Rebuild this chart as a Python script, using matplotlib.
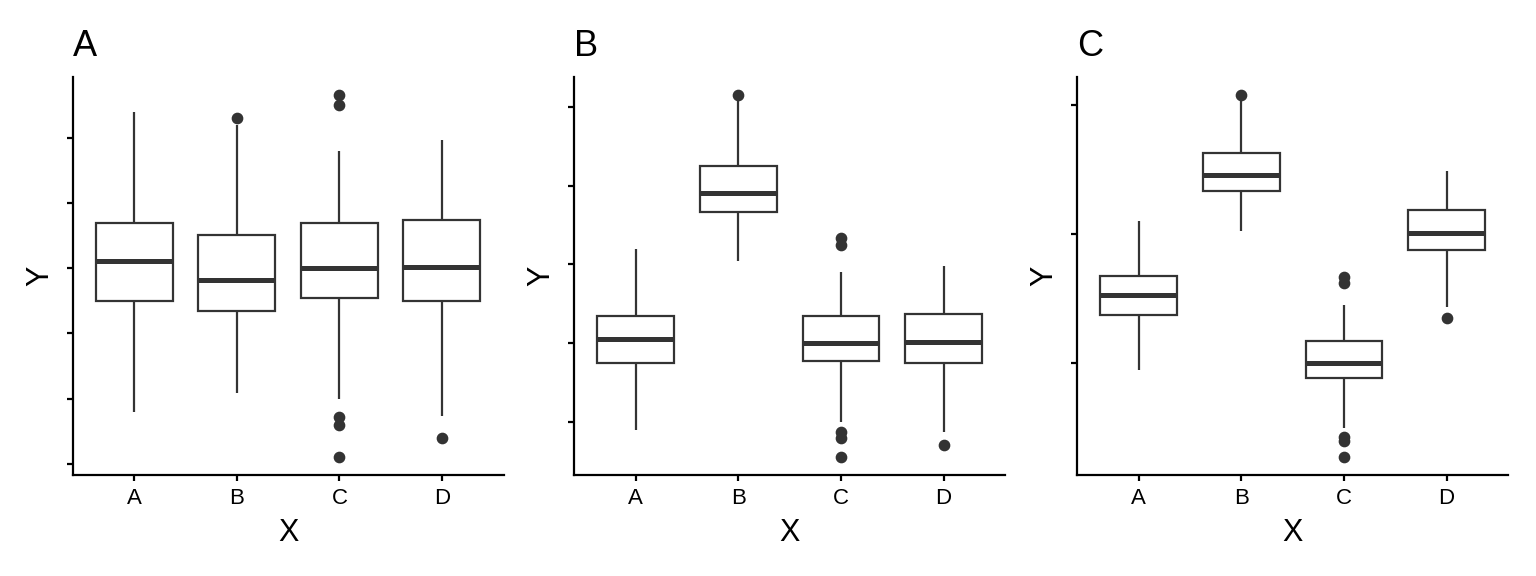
import matplotlib
matplotlib.use("Agg")
import matplotlib.pyplot as plt

plt.rcParams['font.family'] = ['Liberation Sans', 'DejaVu Sans']

# Base box statistics per group (shared by all panels)
groups = ["A", "B", "C", "D"]
whislo = [-2.210, -1.913, -2.003, -2.266]
q1 = [-0.505, -0.661, -0.455, -0.507]
med = [0.108, -0.180, 0.000, 0.021]
q3 = [0.690, 0.503, 0.691, 0.745]
whishi = [2.392, 2.200, 1.796, 1.959]
fliers = [[], [2.310], [2.660, 2.498, -2.277, -2.409, -2.891], [-2.599]]

# Per-panel group shifts
panel_titles = ["A", "B", "C"]
shift_A = [0, 0, 0, 0]
shift_B = [0, 4, 0, 0]
shift_C = [0, 4, -2, 2]
panel_shifts = [shift_A, shift_B, shift_C]
panel_ticks = [[-3, -2, -1, 0, 1, 2], [-2, 0, 2, 4, 6], [-2, 2, 6]]

W, H = 1536, 576
fig = plt.figure(figsize=(W / 100, H / 100), dpi=100)
lefts = [72.7, 574.3, 1077.3]
ax_w, ax_top, ax_bot = 430.8, 76.7, 474.7
ax_h = ax_bot - ax_top

col = "#333333"
for i, (title, shifts, ticks) in enumerate(zip(panel_titles, panel_shifts, panel_ticks)):
    ax = fig.add_axes([lefts[i] / W, (H - ax_bot) / H, ax_w / W, ax_h / H])
    stats = []
    allv = []
    for g in range(4):
        s = shifts[g]
        d = dict(label=groups[g], whislo=whislo[g] + s, q1=q1[g] + s, med=med[g] + s,
                 q3=q3[g] + s, whishi=whishi[g] + s, fliers=[f + s for f in fliers[g]])
        stats.append(d)
        allv += [d['whislo'], d['whishi']] + d['fliers']
    ax.bxp(stats, positions=[1, 2, 3, 4], widths=0.75, showcaps=False,
           patch_artist=True,
           boxprops=dict(facecolor="white", edgecolor=col, linewidth=1.6),
           medianprops=dict(color=col, linewidth=3.6, solid_capstyle="butt"),
           whiskerprops=dict(color=col, linewidth=1.6, solid_capstyle="butt"),
           flierprops=dict(marker="o", markerfacecolor=col, markeredgecolor=col,
                           markersize=7.4, markeredgewidth=1.0, linestyle="none"))
    lo, hi = min(allv), max(allv)
    pad = 0.05 * (hi - lo)
    ax.set_ylim(lo - pad, hi + pad)
    ax.set_xlim(0.4, 4.6)
    ax.set_yticks(ticks)
    ax.set_yticklabels([])
    ax.set_xticks([1, 2, 3, 4])
    ax.set_xticklabels(groups, fontsize=16)
    for sp in ["top", "right"]:
        ax.spines[sp].set_visible(False)
    for sp in ["left", "bottom"]:
        ax.spines[sp].set_linewidth(1.6)
        ax.spines[sp].set_color("black")
    ax.tick_params(axis="both", length=4.3, width=1.6, color="black", labelcolor="black")
    ax.tick_params(axis="x", pad=5.5)
    ax.set_xlabel("X", fontsize=22, va="top")
    ax.xaxis.set_label_coords(0.5, (ax_bot - 518.0) / ax_h)
    ax.set_ylabel("Y", fontsize=22)
    ax.yaxis.set_label_coords((55.0 - 72.7) / ax_w, 0.5)
    ax.text(0.0, 1 + (ax_top - 55.7) / ax_h, title, transform=ax.transAxes,
            fontsize=26, ha="left", va="baseline")

fig.savefig("out.png", dpi=100)
